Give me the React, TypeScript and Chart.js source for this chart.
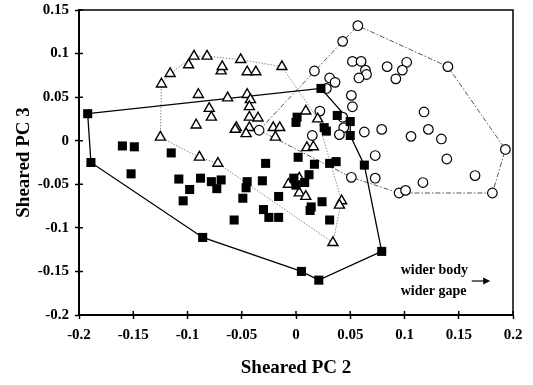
import { useEffect, useRef } from 'react';
import { Chart, registerables } from 'chart.js';

Chart.register(...registerables);

const xTicks = [-0.2, -0.15, -0.1, -0.05, 0, 0.05, 0.1, 0.15, 0.2];
const xTickLabels = ['-0.2', '-0.15', '-0.1', '-0.05', '0', '0.05', '0.1', '0.15', '0.2'];
const yTicks = [-0.2, -0.15, -0.1, -0.05, 0, 0.05, 0.1, 0.15];
const yTickLabels = ['-0.2', '-0.15', '-0.1', '-0.05', '0', '0.05', '0.1', '0.15'];
const xTitle = 'Sheared PC 2';
const yTitle = 'Sheared PC 3';
const noteLines = ['wider body', 'wider gape'];

// filled squares
const squares: [number, number][] = [
  [-0.192, 0.031], [-0.189, -0.025], [-0.160, -0.006], [-0.149, -0.007], [-0.115, -0.014],
  [-0.152, -0.038], [-0.108, -0.044], [-0.088, -0.043], [-0.078, -0.047], [-0.069, -0.045],
  [-0.098, -0.056], [-0.073, -0.055], [-0.104, -0.069], [-0.086, -0.111], [-0.028, -0.026],
  [-0.045, -0.047], [-0.046, -0.054], [-0.031, -0.046], [-0.049, -0.066], [-0.016, -0.064],
  [-0.030, -0.079], [-0.025, -0.088], [-0.016, -0.088], [-0.057, -0.091], [0.002, -0.019],
  [0.017, -0.027], [0.031, -0.026], [0.037, -0.024], [-0.002, -0.043], [0.012, -0.039],
  [0.008, -0.048], [0.000, -0.051], [0.024, -0.070], [0.014, -0.076], [0.013, -0.080],
  [0.031, -0.091], [0.005, -0.150], [0.021, -0.160], [0.079, -0.127], [0.063, -0.028],
  [0.023, 0.060], [0.001, 0.027], [0.000, 0.021], [0.026, 0.015], [0.028, 0.011],
  [0.038, 0.029], [0.050, 0.022], [0.050, 0.006],
];
const squareHull = [0, 40, 46, 47, 39, 38, 37, 36, 13, 1, 0];

// open triangles
const triangles: [number, number][] = [
  [-0.094, 0.097], [-0.082, 0.097], [-0.099, 0.087], [-0.116, 0.077], [-0.124, 0.065],
  [-0.069, 0.080], [-0.090, 0.053], [-0.080, 0.037], [-0.078, 0.027], [-0.092, 0.018],
  [-0.125, 0.004], [-0.089, -0.019], [-0.072, -0.026], [-0.051, 0.093], [-0.013, 0.085],
  [-0.068, 0.085], [-0.045, 0.079], [-0.037, 0.079], [-0.063, 0.049], [-0.045, 0.053],
  [-0.042, 0.047], [-0.043, 0.039], [-0.043, 0.027], [-0.035, 0.026], [-0.055, 0.015],
  [-0.056, 0.013], [-0.043, 0.015], [-0.046, 0.008], [-0.021, 0.015], [-0.015, 0.015],
  [-0.019, 0.004], [0.009, 0.034], [0.020, 0.025], [0.010, -0.008], [0.016, -0.007],
  [-0.007, -0.050], [0.003, -0.043], [0.003, -0.060], [0.009, -0.064], [0.042, -0.069],
  [0.040, -0.074], [0.034, -0.117],
];
const triangleHull = [4, 3, 0, 1, 13, 14, 32, 39, 41, 12, 11, 10, 4];

// open circles
const circles: [number, number][] = [
  [-0.034, 0.012], [0.043, 0.114], [0.057, 0.132], [0.140, 0.085], [0.193, -0.010],
  [0.181, -0.060], [0.095, -0.060], [0.101, -0.057], [0.051, -0.042], [0.017, 0.080],
  [0.031, 0.072], [0.036, 0.067], [0.028, 0.060], [0.022, 0.034], [0.043, 0.027],
  [0.044, 0.015], [0.040, 0.007], [0.015, 0.006], [0.052, 0.091], [0.060, 0.091],
  [0.064, 0.081], [0.065, 0.076], [0.058, 0.072], [0.084, 0.085], [0.102, 0.090],
  [0.098, 0.081], [0.092, 0.071], [0.051, 0.052], [0.052, 0.039], [0.118, 0.033],
  [0.122, 0.013], [0.079, 0.013], [0.063, 0.010], [0.106, 0.005], [0.134, 0.002],
  [0.073, -0.017], [0.139, -0.021], [0.165, -0.040], [0.117, -0.048], [0.073, -0.043],
];
const circleHull = [0, 1, 2, 3, 4, 5, 6, 8, 0];

const FONT = '"Liberation Serif", "Times New Roman", serif';

const toPts = (arr: [number, number][]) => arr.map(([x, y]) => ({ x, y }));
const hullPts = (arr: [number, number][], idx: number[]) => idx.map((i) => ({ x: arr[i][0], y: arr[i][1] }));

const framePlugin = {
  id: 'frame',
  afterDraw(chart: any) {
    const { ctx, chartArea, scales } = chart;
    const { left, right, top, bottom } = chartArea;
    ctx.save();
    ctx.strokeStyle = '#000';
    ctx.lineWidth = 1.5;
    ctx.beginPath();
    ctx.moveTo(left, top);
    ctx.lineTo(right, top);
    ctx.lineTo(right, bottom);
    ctx.stroke();
    ctx.lineWidth = 1.5;
    ctx.beginPath();
    xTicks.forEach((v) => {
      const px = scales.x.getPixelForValue(v);
      ctx.moveTo(px, bottom);
      ctx.lineTo(px, bottom - 4);
    });
    yTicks.forEach((v) => {
      const py = scales.y.getPixelForValue(v);
      ctx.moveTo(left, py);
      ctx.lineTo(left + 4, py);
    });
    ctx.stroke();
    ctx.fillStyle = '#000';
    ctx.font = `bold 14px ${FONT}`;
    ctx.textAlign = 'left';
    ctx.textBaseline = 'middle';
    const tx = scales.x.getPixelForValue(0.0965);
    ctx.fillText(noteLines[0], tx, scales.y.getPixelForValue(-0.1486));
    ctx.fillText(noteLines[1], tx, scales.y.getPixelForValue(-0.1726));
    const ay = scales.y.getPixelForValue(-0.161);
    const ax0 = scales.x.getPixelForValue(0.162);
    const ax1 = scales.x.getPixelForValue(0.179);
    ctx.lineWidth = 1.2;
    ctx.beginPath();
    ctx.moveTo(ax0, ay);
    ctx.lineTo(ax1 - 5, ay);
    ctx.stroke();
    ctx.beginPath();
    ctx.moveTo(ax1, ay);
    ctx.lineTo(ax1 - 7, ay - 3.5);
    ctx.lineTo(ax1 - 7, ay + 3.5);
    ctx.closePath();
    ctx.fill();
    ctx.restore();
  },
};

export default function App() {
  const ref = useRef<HTMLCanvasElement | null>(null);

  useEffect(() => {
    document.body.style.margin = '0';
    const canvas = ref.current;
    if (!canvas) return;
    const chart = new Chart(canvas, {
      type: 'scatter',
      data: {
        datasets: [
          {
            label: 'squares',
            data: toPts(squares),
            pointStyle: 'rect',
            pointRadius: 6.4,
            backgroundColor: '#000',
            borderColor: '#000',
            borderWidth: 0,
            order: 1,
          },
          {
            label: 'triangles',
            data: toPts(triangles),
            pointStyle: 'triangle',
            pointRadius: 5.8,
            backgroundColor: '#fff',
            borderColor: '#000',
            borderWidth: 1.4,
            order: 1,
          },
          {
            label: 'circles',
            data: toPts(circles),
            pointStyle: 'circle',
            pointRadius: 4.8,
            backgroundColor: '#fff',
            borderColor: '#000',
            borderWidth: 1.2,
            order: 1,
          },
          {
            label: 'squareHull',
            data: hullPts(squares, squareHull),
            showLine: true,
            pointRadius: 0,
            borderColor: '#000',
            borderWidth: 1.3,
            fill: false,
            tension: 0,
            order: 2,
          },
          {
            label: 'triangleHull',
            data: hullPts(triangles, triangleHull),
            showLine: true,
            pointRadius: 0,
            borderColor: '#8a8a8a',
            borderWidth: 1,
            borderDash: [1.5, 1.5],
            fill: false,
            tension: 0,
            order: 2,
          },
          {
            label: 'circleHull',
            data: hullPts(circles, circleHull),
            showLine: true,
            pointRadius: 0,
            borderColor: '#555',
            borderWidth: 1,
            borderDash: [5, 2, 1.5, 2],
            fill: false,
            tension: 0,
            order: 2,
          },
        ],
      },
      options: {
        responsive: false,
        animation: false,
        events: [],
        layout: { padding: { left: 0, top: 10, right: 20, bottom: 0 } },
        plugins: { legend: { display: false }, tooltip: { enabled: false } },
        scales: {
          x: {
            type: 'linear',
            min: -0.2,
            max: 0.2,
            afterBuildTicks: (s: any) => {
              s.ticks = xTicks.map((v) => ({ value: v }));
            },
            afterFit: (s: any) => {
              s.height = 70;
              s.paddingLeft = 0;
              s.paddingRight = 0;
            },
            ticks: {
              callback: (_v: any, i: number) => xTickLabels[i],
              font: { family: FONT, size: 15, weight: 'bold' },
              color: '#000',
              padding: 7,
              maxRotation: 0,
              autoSkip: false,
            },
            grid: { drawOnChartArea: false, drawTicks: true, tickLength: 4, tickWidth: 1.5, tickColor: '#000' },
            border: { display: true, color: '#000', width: 2 },
            title: {
              display: true,
              text: xTitle,
              color: '#000',
              font: { family: FONT, size: 19, weight: 'bold' },
              padding: { top: 0, bottom: 6 },
            },
          },
          y: {
            type: 'linear',
            min: -0.2,
            max: 0.15,
            afterBuildTicks: (s: any) => {
              s.ticks = yTicks.map((v) => ({ value: v }));
            },
            afterFit: (s: any) => {
              s.width = 79;
              s.paddingTop = 0;
              s.paddingBottom = 0;
            },
            ticks: {
              callback: (_v: any, i: number) => yTickLabels[i],
              font: { family: FONT, size: 15, weight: 'bold' },
              color: '#000',
              padding: 6,
              autoSkip: false,
            },
            grid: { drawOnChartArea: false, drawTicks: true, tickLength: 4, tickWidth: 1.5, tickColor: '#000' },
            border: { display: true, color: '#000', width: 2 },
            title: {
              display: true,
              text: yTitle,
              color: '#000',
              font: { family: FONT, size: 19, weight: 'bold' },
              padding: { top: 13, bottom: 0 },
            },
          },
        },
      },
      plugins: [framePlugin],
    } as any);
    return () => chart.destroy();
  }, []);

  return (
    <div style={{ width: 533, height: 385 }}>
      <canvas ref={ref} width={533} height={385} style={{ display: 'block' }} />
    </div>
  );
}
